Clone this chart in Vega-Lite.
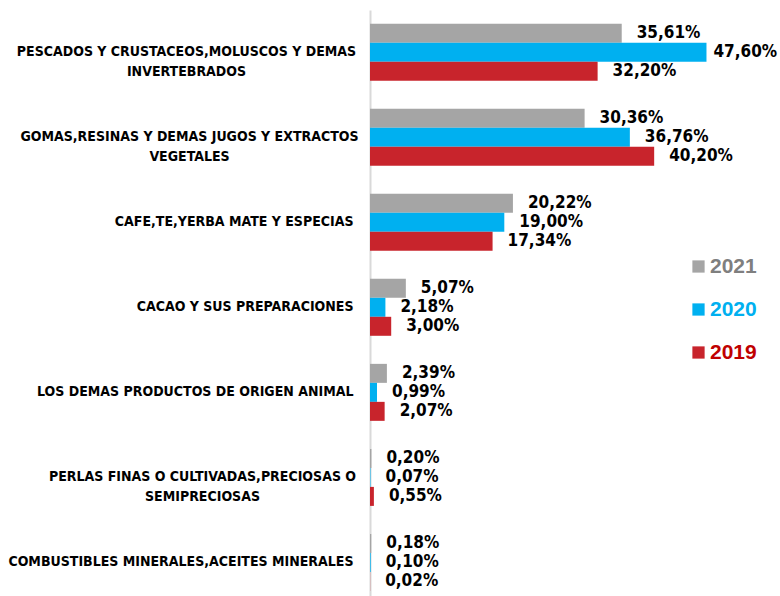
{
  "$schema": "https://vega.github.io/schema/vega-lite/v6.json",
  "width": 410,
  "height": 586,
  "autosize": "none",
  "padding": {"left": 370, "top": 10, "right": 0, "bottom": 0},
  "background": "white",
  "config": {
    "view": {"stroke": null},
    "locale": {"number": {"decimal": ",", "thousands": ".", "grouping": [3], "currency": ["", ""]}}
  },
  "data": {
    "values": [
      {"cat": "PESCADOS Y CRUSTACEOS,MOLUSCOS Y DEMAS|INVERTEBRADOS", "year": "2021", "value": 0.3561},
      {"cat": "PESCADOS Y CRUSTACEOS,MOLUSCOS Y DEMAS|INVERTEBRADOS", "year": "2020", "value": 0.4760},
      {"cat": "PESCADOS Y CRUSTACEOS,MOLUSCOS Y DEMAS|INVERTEBRADOS", "year": "2019", "value": 0.3220},
      {"cat": "GOMAS,RESINAS Y DEMAS JUGOS Y EXTRACTOS|VEGETALES", "year": "2021", "value": 0.3036},
      {"cat": "GOMAS,RESINAS Y DEMAS JUGOS Y EXTRACTOS|VEGETALES", "year": "2020", "value": 0.3676},
      {"cat": "GOMAS,RESINAS Y DEMAS JUGOS Y EXTRACTOS|VEGETALES", "year": "2019", "value": 0.4020},
      {"cat": "CAFE,TE,YERBA MATE Y ESPECIAS", "year": "2021", "value": 0.2022},
      {"cat": "CAFE,TE,YERBA MATE Y ESPECIAS", "year": "2020", "value": 0.1900},
      {"cat": "CAFE,TE,YERBA MATE Y ESPECIAS", "year": "2019", "value": 0.1734},
      {"cat": "CACAO  Y SUS PREPARACIONES", "year": "2021", "value": 0.0507},
      {"cat": "CACAO  Y SUS PREPARACIONES", "year": "2020", "value": 0.0218},
      {"cat": "CACAO  Y SUS PREPARACIONES", "year": "2019", "value": 0.0300},
      {"cat": "LOS DEMAS PRODUCTOS DE ORIGEN ANIMAL", "year": "2021", "value": 0.0239},
      {"cat": "LOS DEMAS PRODUCTOS DE ORIGEN ANIMAL", "year": "2020", "value": 0.0099},
      {"cat": "LOS DEMAS PRODUCTOS DE ORIGEN ANIMAL", "year": "2019", "value": 0.0207},
      {"cat": "PERLAS FINAS O CULTIVADAS,PRECIOSAS O|SEMIPRECIOSAS", "year": "2021", "value": 0.0020},
      {"cat": "PERLAS FINAS O CULTIVADAS,PRECIOSAS O|SEMIPRECIOSAS", "year": "2020", "value": 0.0007},
      {"cat": "PERLAS FINAS O CULTIVADAS,PRECIOSAS O|SEMIPRECIOSAS", "year": "2019", "value": 0.0055},
      {"cat": "COMBUSTIBLES MINERALES,ACEITES MINERALES", "year": "2021", "value": 0.0018},
      {"cat": "COMBUSTIBLES MINERALES,ACEITES MINERALES", "year": "2020", "value": 0.0010},
      {"cat": "COMBUSTIBLES MINERALES,ACEITES MINERALES", "year": "2019", "value": 0.0002}
    ]
  },
  "encoding": {
    "y": {
      "field": "cat",
      "type": "nominal",
      "sort": null,
      "scale": {"paddingInner": 0.33, "paddingOuter": 0.11, "align": 0.73},
      "axis": {
        "title": null,
        "ticks": false,
        "domainColor": "#d9d9d9",
        "domainWidth": 2,
        "labelFont": "DejaVu Sans Condensed",
        "labelFontWeight": "bold",
        "labelFontSize": 14,
        "labelColor": "#000000",
        "labelAlign": {"condition": {"test": "indexof(datum.value, '|') >= 0", "value": "center"}, "value": "right"},
        "labelPadding": {
          "condition": [
            {"test": "indexof(datum.value, 'PESCADOS') == 0", "value": 184},
            {"test": "indexof(datum.value, 'GOMAS') == 0", "value": 181},
            {"test": "indexof(datum.value, 'PERLAS') == 0", "value": 168}
          ],
          "value": 17
        },
        "labelLimit": 0,
        "labelLineHeight": 20,
        "labelBaseline": "middle",
        "labelExpr": "split(datum.label, '|')"
      }
    },
    "yOffset": {"field": "year", "type": "nominal", "sort": ["2021", "2020", "2019"]},
    "x": {"field": "value", "type": "quantitative", "scale": {"domain": [0, 0.58]}, "axis": null}
  },
  "layer": [
    {
      "mark": {"type": "bar"},
      "encoding": {
        "color": {
          "field": "year",
          "type": "nominal",
          "sort": ["2021", "2020", "2019"],
          "scale": {"domain": ["2021", "2020", "2019"], "range": ["#a5a5a5", "#00b0f0", "#c8242c"]},
          "legend": {
            "orient": "none",
            "legendX": 318,
            "legendY": 246,
            "title": null,
            "symbolType": "square",
            "symbolSize": 150,
            "symbolStrokeWidth": 0,
            "labelFont": "Liberation Sans",
            "labelFontWeight": "bold",
            "labelFontSize": 21,
            "labelOffset": 1,
            "rowPadding": 21,
            "labelColor": {"expr": "datum.label == '2021' ? '#7f7f7f' : datum.label == '2020' ? '#00b0f0' : '#c00000'"}
          }
        }
      }
    },
    {
      "mark": {"type": "text", "align": "left", "baseline": "middle", "dx": {"expr": "datum.value > 0.45 ? 7 : 15"}, "font": "DejaVu Sans Condensed", "fontSize": 17, "fontWeight": "bold", "fill": "#000000"},
      "encoding": {"text": {"field": "value", "type": "quantitative", "format": ".2%"}}
    }
  ]
}
